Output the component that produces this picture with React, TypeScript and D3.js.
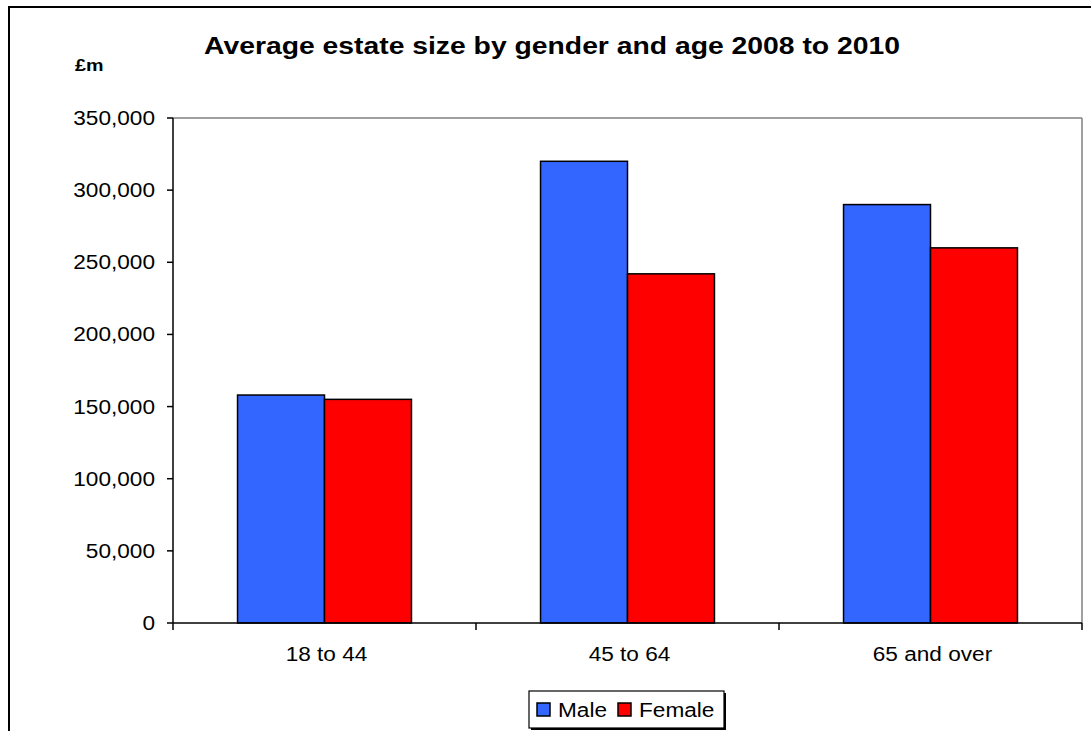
import React from "react";
import * as d3 from "d3";

const categories = ["18 to 44", "45 to 64", "65 and over"];
const seriesNames = ["Male", "Female"];
const maleValues = [158000, 320000, 290000];
const femaleValues = [155000, 242000, 260000];
const yTicks = [0, 50000, 100000, 150000, 200000, 250000, 300000, 350000];
const colors = ["#3366FF", "#FF0000"];

const W = 1091;
const H = 731;
const plot = { left: 173, right: 1082, top: 118, bottom: 623 };
const FONT = "Liberation Sans, Arial, sans-serif";
const SX = 1.16;

function T(props: {
  x: number;
  y: number;
  sx?: number;
  size: number;
  anchor?: string;
  bold?: boolean;
  children: React.ReactNode;
}) {
  const { x, y, sx = SX, size, anchor = "start", bold, children } = props;
  return (
    <text
      transform={`translate(${x},${y}) scale(${sx},1)`}
      textAnchor={anchor}
      fontSize={size}
      fontWeight={bold ? "bold" : "normal"}
      fill="#000"
    >
      {children}
    </text>
  );
}

export default function App() {
  const x = d3
    .scaleBand<string>()
    .domain(categories)
    .range([plot.left, plot.right])
    .paddingInner(0.426)
    .paddingOuter(0.213);
  const xOuter = d3.scaleBand<string>().domain(categories).range([plot.left, plot.right]);
  const y = d3.scaleLinear().domain([0, 350000]).range([plot.bottom, plot.top]);
  const fmt = d3.format(",");
  const series = [maleValues, femaleValues];
  const bw = x.bandwidth() / 2;

  const catBoundaries = [...categories.map((c) => xOuter(c) as number), plot.right];

  return (
    <svg
      width={W}
      height={H}
      style={{ position: "absolute", left: 0, top: 0, background: "#fff" }}
      fontFamily={FONT}
    >
      <rect x={0} y={0} width={W} height={H} fill="#fff" />
      {/* outer chart border */}
      <rect x={9} y={7} width={W + 20} height={H + 20} fill="none" stroke="#000" strokeWidth={2} />

      {/* title */}
      <T x={552} y={54} size={24} sx={1.18} anchor="middle" bold>
        Average estate size by gender and age 2008 to 2010
      </T>
      <T x={75} y={71} size={17} bold>
        £m
      </T>

      {/* plot area border (top/right grey) */}
      <line x1={plot.left} x2={plot.right} y1={plot.top} y2={plot.top} stroke="#808080" strokeWidth={1.5} />
      <line x1={plot.right} x2={plot.right} y1={plot.top} y2={plot.bottom} stroke="#808080" strokeWidth={1.5} />

      {/* bars */}
      {series.map((vals, si) =>
        categories.map((c, ci) => {
          const bx = (x(c) as number) + si * bw;
          return (
            <rect
              key={`${si}-${ci}`}
              x={bx}
              y={y(vals[ci])}
              width={bw}
              height={y(0) - y(vals[ci])}
              fill={colors[si]}
              stroke="#000"
              strokeWidth={1.5}
            />
          );
        })
      )}

      {/* y axis */}
      <line x1={plot.left} x2={plot.left} y1={plot.top} y2={plot.bottom} stroke="#000" strokeWidth={1.5} />
      {yTicks.map((t) => (
        <g key={t}>
          <line x1={plot.left - 6} x2={plot.left} y1={y(t)} y2={y(t)} stroke="#000" strokeWidth={1.5} />
          <T x={155} y={y(t) + 7} size={19.5} anchor="end">
            {fmt(t)}
          </T>
        </g>
      ))}

      {/* x axis */}
      <line x1={plot.left} x2={plot.right} y1={plot.bottom} y2={plot.bottom} stroke="#000" strokeWidth={1.5} />
      {catBoundaries.map((b, i) => (
        <line key={i} x1={b} x2={b} y1={plot.bottom} y2={plot.bottom + 7} stroke="#000" strokeWidth={1.5} />
      ))}
      {categories.map((c) => (
        <T key={c} x={(xOuter(c) as number) + xOuter.bandwidth() / 2 + 2} y={661} size={19.5} anchor="middle">
          {c}
        </T>
      ))}

      {/* legend */}
      <rect x={531} y={693} width={195} height={37} fill="#000" />
      <rect x={529} y={691} width={195} height={37} fill="#fff" stroke="#000" strokeWidth={1.2} />
      {seriesNames.map((s, i) => {
        const lx = [537, 618][i];
        return (
          <g key={s}>
            <rect x={lx} y={703} width={13} height={13} fill={colors[i]} stroke="#000" strokeWidth={1.5} />
            <T x={lx + 21} y={717} size={19.5}>
              {s}
            </T>
          </g>
        );
      })}
    </svg>
  );
}
